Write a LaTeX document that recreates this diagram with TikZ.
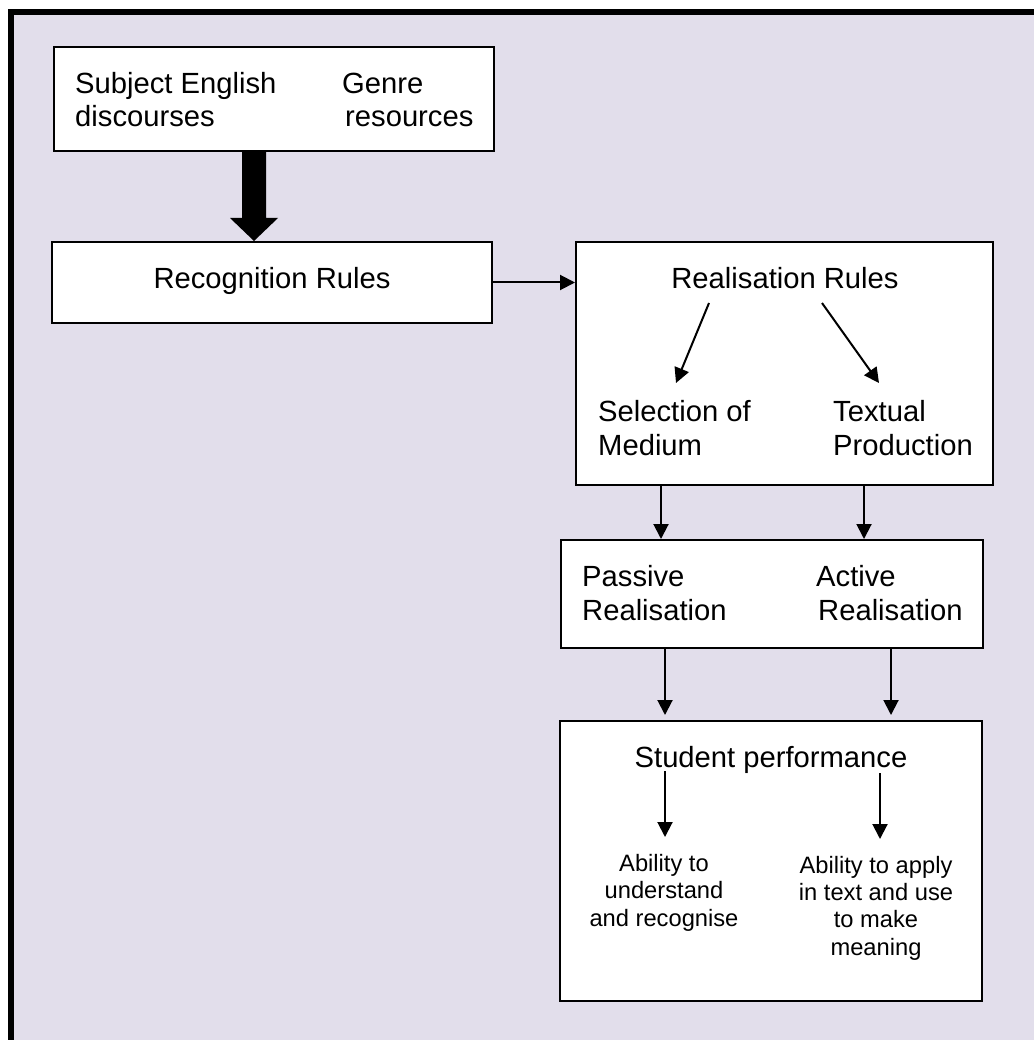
\documentclass[tikz,border=0pt]{standalone}
\usepackage{fontspec}
\setmainfont{Liberation Sans}
\usetikzlibrary{arrows.meta}
\definecolor{panel}{RGB}{226,222,235}
\tikzset{
  box/.style={draw=black, line width=2pt, fill=white, inner sep=0pt},
  big/.style={font=\fontsize{29.2}{33.6}\selectfont, inner sep=0pt, align=left},
  bigc/.style={font=\fontsize{29.2}{33.6}\selectfont, inner sep=0pt, align=center},
  small/.style={font=\fontsize{23.7}{27.3}\selectfont, inner sep=0pt, align=center},
  link/.style={line width=2pt, -{Triangle[width=15pt,length=15pt]}},
}
\begin{document}
\begin{tikzpicture}[x=1pt,y=-1pt]
\useasboundingbox (0,0) rectangle (1034,1040);
% page and framed panel
\fill[white] (0,0) rectangle (1034,1040);
\fill[panel] (8,9) rectangle (1034,1040);
\draw[line width=6pt] (11,1040) -- (11,12) -- (1034,12);

% boxes
\node[box, minimum width=440pt, minimum height=104pt] (src) at (274,99) {};
\node[box, minimum width=440pt, minimum height=81pt] (rec) at (272,282.5) {};
\node[box, minimum width=417pt, minimum height=243pt] (real) at (784.5,363.5) {};
\node[box, minimum width=422pt, minimum height=108pt] (mode) at (772,594) {};
\node[box, minimum width=422pt, minimum height=280pt] (perf) at (771,861) {};

% texts (multi-line nodes are anchored on the baseline of their last line)
\node[big, anchor=base west] (subj) at (75,127) {Subject English\\discourses};
\node[big, anchor=base west] (genre) at (342,127) {Genre\\\hspace*{3pt}resources};
\node[bigc, anchor=base] (rectxt) at (272,288) {Recognition Rules};
\node[bigc, anchor=base] (realtxt) at (785,288) {Realisation Rules};
\node[big, anchor=base west] (sel) at (598,455) {Selection of\\Medium};
\node[big, anchor=base west] (txt) at (833,455) {Textual\\Production};
\node[big, anchor=base west] (pas) at (582,620) {Passive\\Realisation};
\node[big, anchor=base west] (act) at (816,620) {Active\\\hspace*{2pt}Realisation};
\node[bigc, anchor=base] (stud) at (771,767) {Student performance};
\node[small, anchor=base] (und) at (664,926) {Ability to\\understand\\and recognise};
\node[small, anchor=base] (app) at (876,955) {Ability to apply\\in text and use\\to make\\meaning};

% heavy block arrow
\coordinate (ta) at ([xshift=-20pt]src.south);
\coordinate (tb) at (ta |- rec.north);
\fill ([xshift=-12pt]ta) -- ([xshift=12pt]ta) -- ([xshift=12pt,yshift=23pt]tb)
  -- ([xshift=24pt,yshift=23pt]tb) -- (tb) -- ([xshift=-24pt,yshift=23pt]tb)
  -- ([xshift=-12pt,yshift=23pt]tb) -- cycle;

% connectors
\draw[link] (rec.east) -- (rec.east -| real.west);

\coordinate (d1a) at (709,303); \coordinate (d1b) at (676,383);
\coordinate (d2a) at (822,303); \coordinate (d2b) at (879,383);
\draw[link] (d1a) -- (d1b);
\draw[link] (d2a) -- (d2b);

\coordinate (r1) at (661,485); \coordinate (r2) at (864,485);
\draw[link] (r1) -- (r1 |- mode.north);
\draw[link] (r2) -- (r2 |- mode.north);

\coordinate (m1) at (665,648); \coordinate (m2) at (891,648);
\draw[link, shorten >=5pt] (m1) -- (m1 |- perf.north);
\draw[link, shorten >=5pt] (m2) -- (m2 |- perf.north);

\coordinate (s1a) at (665,771); \coordinate (s1b) at (665,837);
\coordinate (s2a) at (880,773); \coordinate (s2b) at (880,839);
\draw[link] (s1a) -- (s1b);
\draw[link] (s2a) -- (s2b);
\end{tikzpicture}
\end{document}
